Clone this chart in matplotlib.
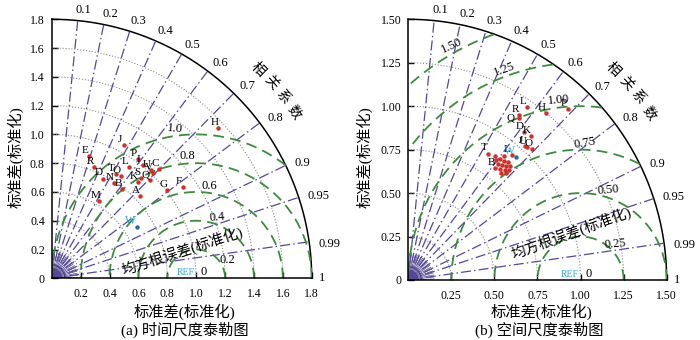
import numpy as np
import matplotlib.pyplot as plt

plt.rcParams['font.family'] = ['Liberation Serif', 'Noto Sans CJK SC']

# (a) time scale: model std (normalised) and correlation with the reference
a_names = ['A', 'B', 'C', 'D', 'E', 'F', 'G', 'H', 'I', 'J', 'K',
           'L', 'M', 'N', 'O', 'P', 'Q', 'R', 'S', 'T', 'U', 'V']
a_std = [0.835, 0.790, 1.062, 0.780, 0.889, 1.110, 1.008, 1.555, 1.008, 1.052, 0.899,
         0.940, 0.630, 0.788, 0.854, 1.024, 0.962, 0.829, 0.931, 0.849, 1.019, 1.011]
a_corr = [0.731, 0.620, 0.701, 0.458, 0.290, 0.820, 0.794, 0.742, 0.625, 0.475, 0.667,
          0.571, 0.524, 0.546, 0.560, 0.586, 0.707, 0.354, 0.666, 0.522, 0.677, 0.692]
a_w_std = 0.688
a_w_corr = 0.854

# (b) space scale
b_names = ['L', 'H', 'P', 'R', 'Q', 'D', 'K', 'J', 'U', 'O', 'T', 'L', 'B',
           '', '', '', '', '', '', '', '', '', '', '', '', '', '', '']
b_std = [1.211, 1.250, 1.351, 1.148, 1.129, 1.082, 1.094, 1.024, 1.030, 1.040, 0.862, 0.937, 0.819,
         0.859, 0.876, 0.880, 0.891, 0.844, 0.856, 0.868, 0.883, 0.831, 0.844, 0.861, 0.820,
         0.839, 0.902, 0.871]
b_corr = [0.570, 0.640, 0.685, 0.562, 0.567, 0.619, 0.652, 0.659, 0.670, 0.692, 0.536, 0.640, 0.617,
          0.595, 0.605, 0.628, 0.649, 0.616, 0.638, 0.656, 0.670, 0.638, 0.662, 0.678, 0.659,
          0.678, 0.613, 0.575]
b_w_std = 0.943
b_w_corr = 0.660

corr_levels = [0.1, 0.2, 0.3, 0.4, 0.5, 0.6, 0.7, 0.8, 0.9, 0.95, 0.99, 1.0]
corr_labels = ['0.1', '0.2', '0.3', '0.4', '0.5', '0.6', '0.7', '0.8', '0.9', '0.95', '0.99', '1']

a_ticks = [0, 0.2, 0.4, 0.6, 0.8, 1.0, 1.2, 1.4, 1.6, 1.8]
a_ticklabels = ['0', '0.2', '0.4', '0.6', '0.8', '1.0', '1.2', '1.4', '1.6', '1.8']
b_ticks = [0, 0.25, 0.5, 0.75, 1.0, 1.25, 1.5]
b_ticklabels = ['0', '0.25', '0.50', '0.75', '1.00', '1.25', '1.50']

a_rms = [0.2, 0.4, 0.6, 0.8, 1.0]
a_rmslabels = ['0.2', '0.4', '0.6', '0.8', '1.0']
b_rms = [0.25, 0.5, 0.75, 1.0, 1.25, 1.5]
b_rmslabels = ['0.25', '0.50', '0.75', '1.00', '1.25', '1.50']

PURPLE = '#54489a'
GREEN = '#3c8c3c'
RED = '#d0302a'
CYAN = '#38a8dc'


def frame(ax, rmax, ticks, ticklabels):
    ax.set_xlim(0, rmax)
    ax.set_ylim(0, rmax)
    ax.spines['top'].set_visible(False)
    ax.spines['right'].set_visible(False)
    for s in ['left', 'bottom']:
        ax.spines[s].set_linewidth(1.1)
    ax.set_xticks(ticks[1:])
    ax.set_xticklabels(ticklabels[1:])
    ax.set_yticks(ticks)
    ax.set_yticklabels(ticklabels)
    ax.tick_params(axis='x', direction='in', length=4, width=1, pad=7, labelsize=8.5)
    ax.tick_params(axis='y', direction='in', length=4, width=1, pad=5, labelsize=8.5)
    t = np.linspace(0, np.pi / 2, 300)
    ax.plot(rmax * np.cos(t), rmax * np.sin(t), color='k', lw=1.1, clip_on=False)
    # std arcs
    for r in ticks[1:-1]:
        ax.plot(r * np.cos(t), r * np.sin(t), color='#8a8a8a', ls=':', lw=0.8)
    # little fan around the origin
    for th in np.linspace(0.04, np.pi / 2 - 0.04, 20):
        ax.plot([0, 0.1 * rmax * np.cos(th)], [0, 0.1 * rmax * np.sin(th)],
                color='#3b2f7a', lw=0.45)
    for r in np.linspace(0.012, 0.05, 4) * rmax:
        ax.plot(r * np.cos(t), r * np.sin(t), color='#3b2f7a', lw=0.6)


def corr_lines(ax, rmax):
    for c, lab in zip(corr_levels, corr_labels):
        th = np.arccos(c)
        if c < 1:
            ax.plot([0, rmax * np.cos(th)], [0, rmax * np.sin(th)], color=PURPLE,
                    ls=(0, (8, 2.5, 1.2, 2.5)), lw=0.9)
        rf = rmax * (1.04 + 0.012 * (len(lab) - 1) * c)
        ta = th - np.radians(1.0) if c < 1 else 0.0
        ax.text(rf * np.cos(ta), rf * np.sin(ta), lab, ha='center', va='center', fontsize=9)
    # title along the outer arc
    angs = np.linspace(45.5, 34.5, 4)
    for ch, a in zip('相关系数', angs):
        r = rmax * 1.13
        ax.text(r * np.cos(np.radians(a)), r * np.sin(np.radians(a)), ch,
                rotation=a - 90, ha='center', va='center', fontsize=10)


def rms_arcs(ax, rmax, levels, labels, angs, rots, text_xy, text_rot):
    t = np.linspace(0, np.pi, 600)
    for r in levels:
        x = 1 + r * np.cos(t)
        y = r * np.sin(t)
        out = (np.hypot(x, y) > rmax) | (x < 0)
        x[out] = np.nan
        y[out] = np.nan
        ax.plot(x, y, color=GREEN, ls=(0, (6, 3.5)), lw=1.3)
    for r, lab, a, rot in zip(levels, labels, angs, rots):
        d = r + 0.027 * rmax
        ax.text(1 + d * np.cos(np.radians(a)), d * np.sin(np.radians(a)), lab,
                rotation=rot, ha='center', va='center', fontsize=9)
    ax.text(0.99, 0.005 * rmax, 'REF', color=CYAN, fontsize=7, ha='right', va='bottom')
    ax.text(1.03, 0.0, '0', fontsize=9, ha='left', va='bottom')
    ax.text(text_xy[0], text_xy[1], '均方根误差(标准化)', rotation=text_rot,
            ha='center', va='center', fontsize=10.5)


def points(ax, names, std, corr, w_std, w_corr, offsets):
    std = np.array(std)
    corr = np.array(corr)
    x = std * corr
    y = std * np.sqrt(1 - corr ** 2)
    ax.plot(x, y, 'o', color=RED, ms=3.2, mew=0, zorder=5)
    for n, xi, yi in zip(names, x, y):
        if n:
            ax.annotate(n, (xi, yi), xytext=offsets.get(n, (-3, 4)), textcoords='offset points',
                        ha='center', va='center', fontsize=8, zorder=6)
    wx = w_std * w_corr
    wy = w_std * np.sqrt(1 - w_corr ** 2)
    ax.plot(wx, wy, 'o', color='#2c6aa0', ms=3.2, mew=0, zorder=5)
    ax.annotate('W', (wx, wy), xytext=(-4, 4), textcoords='offset points',
                ha='center', va='center', fontsize=8.5, color=CYAN, zorder=6)


fig = plt.figure(figsize=(7, 3.4), dpi=100)
ax1 = fig.add_axes([0.0739, 0.1815, 0.3714, 0.7618])
ax2 = fig.add_axes([0.5833, 0.1765, 0.3691, 0.7668])

frame(ax1, 1.8, a_ticks, a_ticklabels)
corr_lines(ax1, 1.8)
rms_arcs(ax1, 1.8, a_rms, a_rmslabels, [31, 71, 82, 94, 98], [0, 5, 0, 0, -5],
         (0.905, 0.19), 18)
points(ax1, a_names, a_std, a_corr, a_w_std, a_w_corr, {})

frame(ax2, 1.5, b_ticks, b_ticklabels)
corr_lines(ax2, 1.5)
rms_arcs(ax2, 1.5, b_rms, b_rmslabels, [46, 73, 88, 97, 110, 119], [5, 5, 10, 5, 20, 25],
         (0.946, 0.27), 20)
points(ax2, b_names, b_std, b_corr, b_w_std, b_w_corr, {'Q': (-6, 0)})

for cx, lab_x, cap in [(0.264, 0.264, '(a) 时间尺度泰勒图'), (0.774, 0.770, '(b) 空间尺度泰勒图')]:
    fig.text(cx, 0.082, '标准差(标准化)', ha='center', va='center', fontsize=11)
    fig.text(lab_x, 0.029, cap, ha='center', va='center', fontsize=11)
fig.text(0.0214, 0.537, '标准差(标准化)', rotation=90, ha='center', va='center', fontsize=11)
fig.text(0.521, 0.538, '标准差(标准化)', rotation=90, ha='center', va='center', fontsize=11)

fig.savefig('out.png', dpi=100)
